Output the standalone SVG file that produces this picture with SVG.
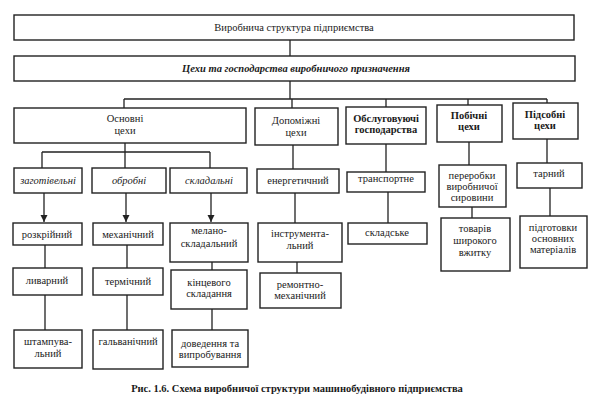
<svg xmlns="http://www.w3.org/2000/svg" width="600" height="418" viewBox="0 0 600 418">
<defs>
<style>
.b{fill:#fff;stroke:#222;stroke-width:1.4}
.c{fill:none;stroke:#222;stroke-width:1.3}
text{font-family:"Liberation Serif","Times New Roman",serif;font-size:10.5px;fill:#1a1a1a;text-anchor:middle}
.bd{font-weight:bold}
.it{font-style:italic}
.bi{font-style:italic;font-weight:bold}
</style>
<marker id="ar" viewBox="0 0 10 10" refX="10" refY="5" markerWidth="7" markerHeight="8" orient="auto" markerUnits="userSpaceOnUse">
<path d="M0,0 L10,5 L0,10 Z" fill="#222"/>
</marker>
</defs>
<rect width="600" height="418" fill="#fff"/>

<g id="connectors">
<path class="c" d="M290,40 V56"/>
<path class="c" d="M290,81 V99"/>
<path class="c" d="M124,99 H547"/>
<path class="c" d="M124,99 V108 M292,99 V108 M386,99 V107 M468,99 V105 M547,99 V103"/>
<path class="c" d="M125,143 V152 M42,152 H210 M42,152 V168 M125,152 V168 M210,152 V168"/>
<path class="c" d="M44,193 V222" marker-end="url(#ar)"/>
<path class="c" d="M126,193 V222" marker-end="url(#ar)"/>
<path class="c" d="M211,193 V222" marker-end="url(#ar)"/>
<path class="c" d="M45,245 V268 M45,295 V330"/>
<path class="c" d="M127,245 V268 M127,295 V330"/>
<path class="c" d="M212,262 V270 M212,309 V330"/>
<path class="c" d="M293,145 V169 M295,193 V223 M297,262 V273"/>
<path class="c" d="M386,144 V172 M388,192 V223"/>
<path class="c" d="M469,142 V165 M472,207 V218"/>
<path class="c" d="M547,139 V163 M550,188 V216"/>
</g>

<g id="n-root"><rect class="b" x="14" y="15" width="560" height="25"/><text x="294" y="31">Виробнича структура підприємства</text></g>
<g id="n-purpose"><rect class="b" x="14" y="56" width="561" height="25"/><text class="bi" x="296" y="72">Цехи та господарства виробничого призначення</text></g>

<g id="n-main"><rect class="b" x="14" y="108" width="232" height="35"/><text x="125" y="122">Основні</text><text x="125" y="134">цехи</text></g>
<g id="n-aux"><rect class="b" x="255" y="108" width="83" height="37"/><text x="296" y="124">Допоміжні</text><text x="296" y="136">цехи</text></g>
<g id="n-service"><rect class="b" x="346" y="107" width="80" height="37"/><text class="bd" x="386" y="122">Обслуговуючі</text><text class="bd" x="386" y="133">господарства</text></g>
<g id="n-side"><rect class="b" x="437" y="105" width="65" height="37"/><text class="bd" x="469" y="119">Побічні</text><text class="bd" x="469" y="130">цехи</text></g>
<g id="n-subsid"><rect class="b" x="513" y="103" width="65" height="36"/><text class="bd" x="545" y="118">Підсобні</text><text class="bd" x="545" y="129">цехи</text></g>

<g id="n-zag"><rect class="b" x="14" y="168" width="68" height="25"/><text class="it" x="48" y="184">заготівельні</text></g>
<g id="n-obr"><rect class="b" x="92" y="168" width="74" height="25"/><text class="it" x="129" y="184">обробні</text></g>
<g id="n-skl"><rect class="b" x="170" y="168" width="77" height="25"/><text class="it" x="209" y="184">складальні</text></g>

<g id="n-rozkr"><rect class="b" x="13" y="223" width="69" height="22"/><text x="47" y="238">розкрійний</text></g>
<g id="n-lyv"><rect class="b" x="13" y="268" width="69" height="27"/><text x="47" y="284">ливарний</text></g>
<g id="n-shtamp"><rect class="b" x="14" y="330" width="68" height="38"/><text x="48" y="345">штампува-</text><text x="48" y="357">льний</text></g>

<g id="n-mekh"><rect class="b" x="93" y="223" width="70" height="22"/><text x="128" y="238">механічний</text></g>
<g id="n-term"><rect class="b" x="93" y="268" width="70" height="27"/><text x="128" y="285">термічний</text></g>
<g id="n-galv"><rect class="b" x="93" y="330" width="70" height="39"/><text x="128" y="345">гальванічний</text></g>

<g id="n-melano"><rect class="b" x="170" y="223" width="78" height="39"/><text x="209" y="234">мелано-</text><text x="209" y="247">складальний</text></g>
<g id="n-kinc"><rect class="b" x="171" y="270" width="76" height="39"/><text x="209" y="286">кінцевого</text><text x="209" y="297">складання</text></g>
<g id="n-dov"><rect class="b" x="172" y="330" width="76" height="37"/><text x="210" y="347">доведення та</text><text x="210" y="358">випробування</text></g>

<g id="n-energ"><rect class="b" x="257" y="169" width="82" height="24"/><text x="298" y="184">енергетичний</text></g>
<g id="n-instr"><rect class="b" x="258" y="223" width="84" height="39"/><text x="300" y="237">інструмента-</text><text x="300" y="249">льний</text></g>
<g id="n-remont"><rect class="b" x="260" y="273" width="81" height="35"/><text x="300" y="288">ремонтно-</text><text x="300" y="299">механічний</text></g>

<g id="n-transp"><rect class="b" x="347" y="172" width="78" height="20"/><text x="386" y="182">транспортне</text></g>
<g id="n-sklad"><rect class="b" x="348" y="223" width="79" height="21"/><text x="387" y="236">складське</text></g>

<g id="n-pererob"><rect class="b" x="439" y="165" width="67" height="42"/><text x="472" y="179">переробки</text><text x="472" y="190">виробничої</text><text x="472" y="201">сировини</text></g>
<g id="n-tovar"><rect class="b" x="441" y="218" width="69" height="53"/><text x="475" y="232">товарів</text><text x="475" y="244">широкого</text><text x="475" y="256">вжитку</text></g>

<g id="n-tarn"><rect class="b" x="517" y="163" width="65" height="25"/><text x="549" y="177">тарний</text></g>
<g id="n-pidg"><rect class="b" x="520" y="216" width="67" height="52"/><text x="553" y="231">підготовки</text><text x="553" y="242">основних</text><text x="553" y="253">матеріалів</text></g>

<text class="bd" x="297" y="392">Рис. 1.6. Схема виробничої структури машинобудівного підприємства</text>
</svg>
